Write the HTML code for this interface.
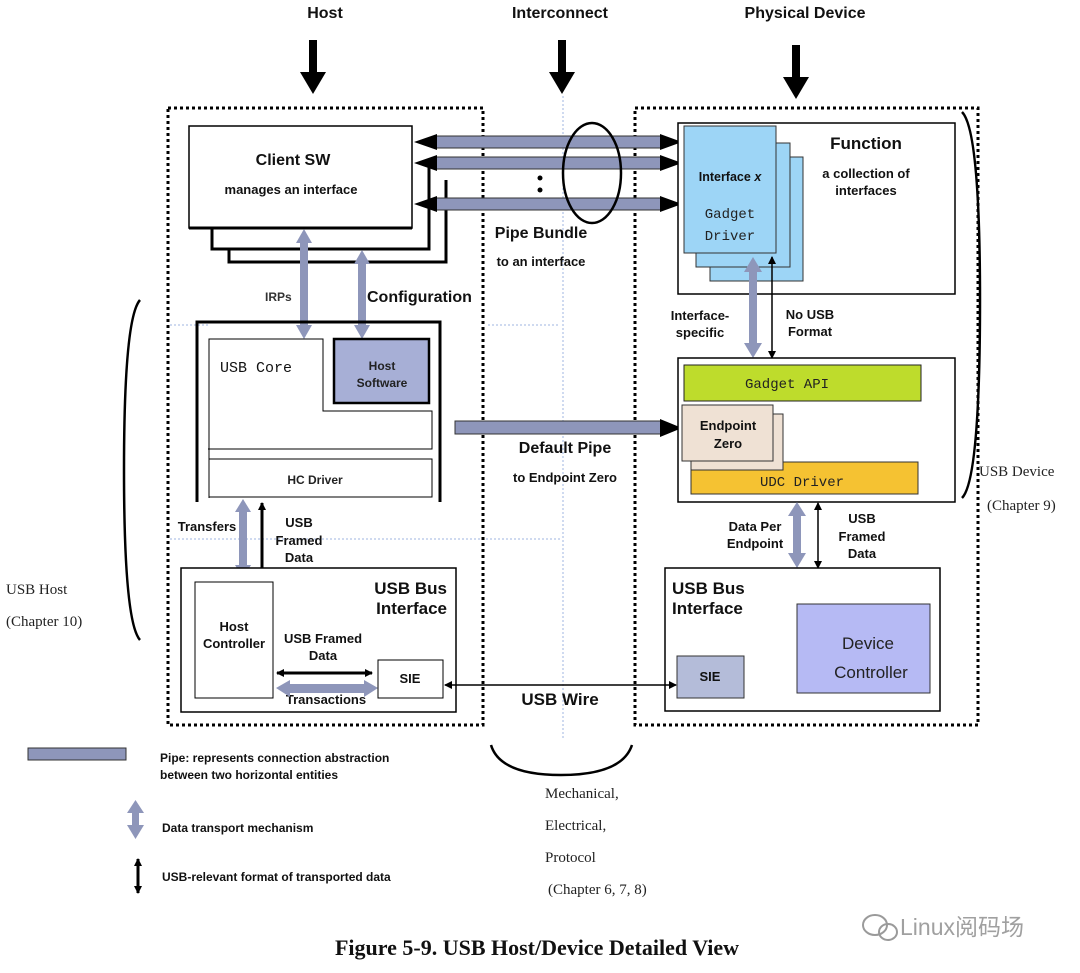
<!DOCTYPE html>
<html><head><meta charset="utf-8"><style>
html,body{margin:0;padding:0;background:#fff;}
svg{display:block;}
.s{font-family:"Liberation Sans",sans-serif;}
.b{font-weight:bold;}
.m{font-family:"Liberation Mono","DejaVu Sans Mono",monospace;}
.r{font-family:"Liberation Serif",serif;}
</style></head><body>
<svg width="1080" height="973" viewBox="0 0 1080 973" xmlns="http://www.w3.org/2000/svg">
<defs>
<marker id="ah" markerWidth="8" markerHeight="8" refX="7" refY="4" orient="auto-start-reverse" markerUnits="userSpaceOnUse"><path d="M0,0 L8,4 L0,8 z" fill="#000"/></marker>
</defs>
<g class="s b" font-size="16" text-anchor="middle" fill="#111">
<text x="325" y="18">Host</text><text x="560" y="18">Interconnect</text><text x="805" y="18">Physical Device</text>
</g>
<g fill="#000">
<rect x="309" y="40" width="8" height="35"/><path d="M300,72 L326,72 L313,94 z"/>
<rect x="558" y="40" width="8" height="35"/><path d="M549,72 L575,72 L562,94 z"/>
<rect x="792" y="45" width="8" height="35"/><path d="M783,77 L809,77 L796,99 z"/>
</g>
<g stroke="#9fb4e0" stroke-width="1" stroke-dasharray="2,2">
<line x1="563" y1="96" x2="563" y2="740"/>
<line x1="170" y1="325" x2="210" y2="325"/><line x1="488" y1="325" x2="560" y2="325"/>
<line x1="170" y1="539" x2="560" y2="539"/>
</g>
<g fill="none" stroke="#000" stroke-width="3" stroke-dasharray="3,3">
<path d="M168,108 L483,108 L483,725 L168,725 z"/>
<path d="M635,108 L978,108 L978,725 L635,725 z"/>
</g>
<g fill="none" stroke="#000" stroke-width="3">
<path d="M212,228 L212,249 L429,249 L429,165"/>
<path d="M229,249 L229,262 L446,262 L446,180"/>
</g>
<rect x="189" y="126" width="223" height="102" fill="#fff" stroke="#000" stroke-width="1.5"/>
<path d="M189,228 L412,228" stroke="#000" stroke-width="3"/>
<g class="s b" text-anchor="middle" fill="#111">
<text x="293" y="165" font-size="16">Client SW</text>
<text x="291" y="194" font-size="13">manages an interface</text>
</g>
<g fill="#8e96ba" stroke="#333" stroke-width="1">
<rect x="436" y="136" width="225" height="12"/>
<rect x="436" y="157" width="225" height="12"/>
<rect x="436" y="198" width="225" height="12"/>
<rect x="455" y="421" width="207" height="13"/>
</g>
<g fill="#000">
<path d="M414,142 L437,134 L437,150 z"/><path d="M682,142 L660,134 L660,150 z"/>
<path d="M414,163 L437,155 L437,171 z"/><path d="M682,163 L660,155 L660,171 z"/>
<path d="M414,204 L437,196 L437,212 z"/><path d="M682,204 L660,196 L660,212 z"/>
<path d="M682,428 L660,419 L660,437 z"/>
<circle cx="540" cy="178" r="2.5"/><circle cx="540" cy="190" r="2.5"/>
</g>
<ellipse cx="592" cy="173" rx="29" ry="50" fill="none" stroke="#000" stroke-width="2.5"/>
<g class="s b" fill="#111" text-anchor="middle">
<text x="541" y="238" font-size="16">Pipe Bundle</text>
<text x="541" y="266" font-size="13">to an interface</text>
<text x="565" y="453" font-size="16">Default Pipe</text>
<text x="565" y="482" font-size="13">to Endpoint Zero</text>
</g>
<g fill="#8e96ba">
<rect x="300" y="240" width="8" height="88"/><path d="M296,243 L304,229 L312,243 z"/><path d="M296,325 L304,339 L312,325 z"/>
<rect x="358" y="262" width="8" height="66"/><path d="M354,264 L362,250 L370,264 z"/><path d="M354,325 L362,339 L370,325 z"/>
</g>
<text x="265" y="301" class="s b" font-size="12" fill="#333">IRPs</text>
<text x="367" y="302" class="s b" font-size="16" fill="#111">Configuration</text>
<path d="M197,502 L197,322 L440,322 L440,502" fill="none" stroke="#000" stroke-width="3"/>
<path d="M209,498 L209,339 L323,339 L323,411 L432,411 L432,449 L208,449" fill="none" stroke="#000" stroke-width="1"/>
<text x="220" y="372" class="m" font-size="15" fill="#111">USB Core</text>
<rect x="334" y="339" width="95" height="64" fill="#a7afd6" stroke="#000" stroke-width="2.5"/>
<g class="s b" font-size="12" fill="#222" text-anchor="middle"><text x="382" y="370">Host</text><text x="382" y="387">Software</text></g>
<rect x="209" y="459" width="223" height="38" fill="#fff" stroke="#000" stroke-width="1"/>
<text x="315" y="484" class="s b" font-size="12" fill="#222" text-anchor="middle">HC Driver</text>
<g fill="#8e96ba"><rect x="239" y="510" width="8" height="58"/><path d="M235,512 L243,499 L251,512 z"/><path d="M235,565 L243,578 L251,565 z"/></g>
<line x1="262" y1="503" x2="262" y2="578" stroke="#000" stroke-width="3" marker-start="url(#ah)" marker-end="url(#ah)"/>
<g class="s b" font-size="13" fill="#111" text-anchor="middle">
<text x="207" y="531">Transfers</text>
<text x="299" y="527">USB</text><text x="299" y="545">Framed</text><text x="299" y="562">Data</text>
</g>
<rect x="181" y="568" width="275" height="144" fill="#fff" stroke="#000" stroke-width="1.5"/>
<rect x="195" y="582" width="78" height="116" fill="#fff" stroke="#000" stroke-width="1"/>
<g class="s b" fill="#111">
<text x="447" y="594" font-size="17" text-anchor="end">USB Bus</text>
<text x="447" y="614" font-size="17" text-anchor="end">Interface</text>
<text x="234" y="631" font-size="13" text-anchor="middle">Host</text>
<text x="234" y="648" font-size="13" text-anchor="middle">Controller</text>
<text x="323" y="643" font-size="13" text-anchor="middle">USB Framed</text>
<text x="323" y="660" font-size="13" text-anchor="middle">Data</text>
<text x="326" y="704" font-size="13" text-anchor="middle">Transactions</text>
</g>
<line x1="277" y1="673" x2="372" y2="673" stroke="#000" stroke-width="3" marker-start="url(#ah)" marker-end="url(#ah)"/>
<g fill="#8e96ba"><rect x="288" y="684" width="78" height="9"/><path d="M290,680 L276,688 L290,697 z"/><path d="M364,680 L378,688 L364,697 z"/></g>
<rect x="378" y="660" width="65" height="38" fill="#fff" stroke="#000" stroke-width="1"/>
<text x="410" y="683" class="s b" font-size="13" fill="#111" text-anchor="middle">SIE</text>
<text x="560" y="705" class="s b" font-size="17" fill="#111" text-anchor="middle">USB Wire</text>
<rect x="678" y="123" width="277" height="171" fill="#fff" stroke="#000" stroke-width="1.5"/>
<rect x="710" y="157" width="93" height="124" fill="#9dd5f6" stroke="#333" stroke-width="1"/>
<rect x="696" y="143" width="94" height="124" fill="#9dd5f6" stroke="#333" stroke-width="1"/>
<rect x="684" y="126" width="92" height="127" fill="#9dd5f6" stroke="#333" stroke-width="1"/>
<text x="730" y="181" class="s b" font-size="12.5" fill="#111" text-anchor="middle">Interface <tspan font-style="italic">x</tspan></text>
<text x="730" y="218" class="m" font-size="14" fill="#222" text-anchor="middle">Gadget</text>
<text x="730" y="240" class="m" font-size="14" fill="#222" text-anchor="middle">Driver</text>
<g class="s b" fill="#111" text-anchor="middle">
<text x="866" y="149" font-size="17">Function</text>
<text x="866" y="178" font-size="13">a collection of</text>
<text x="866" y="195" font-size="13">interfaces</text>
<text x="700" y="320" font-size="13">Interface-</text><text x="700" y="337" font-size="13">specific</text>
<text x="810" y="319" font-size="13">No USB</text><text x="810" y="336" font-size="13">Format</text>
</g>
<g fill="#8e96ba"><rect x="749" y="270" width="8" height="76"/><path d="M744,272 L753,257 L762,272 z"/><path d="M744,343 L753,358 L762,343 z"/></g>
<line x1="772" y1="257" x2="772" y2="358" stroke="#000" stroke-width="1.5" marker-start="url(#ah)" marker-end="url(#ah)"/>
<rect x="678" y="358" width="277" height="144" fill="#fff" stroke="#000" stroke-width="1.5"/>
<rect x="684" y="365" width="237" height="36" fill="#bedc2c" stroke="#222" stroke-width="1"/>
<text x="787" y="388" class="m" font-size="14" fill="#222" text-anchor="middle">Gadget API</text>
<rect x="691" y="462" width="227" height="32" fill="#f5c232" stroke="#333" stroke-width="1"/>
<text x="802" y="486" class="m" font-size="14" fill="#222" text-anchor="middle">UDC Driver</text>
<rect x="691" y="414" width="92" height="56" fill="#efe1d4" stroke="#333" stroke-width="1"/>
<rect x="682" y="405" width="91" height="56" fill="#efe1d4" stroke="#333" stroke-width="1"/>
<g class="s b" font-size="13" fill="#111" text-anchor="middle"><text x="728" y="430">Endpoint</text><text x="728" y="448">Zero</text></g>
<g fill="#8e96ba"><rect x="793" y="514" width="8" height="42"/><path d="M788,516 L797,502 L806,516 z"/><path d="M788,553 L797,568 L806,553 z"/></g>
<line x1="818" y1="503" x2="818" y2="568" stroke="#000" stroke-width="1.5" marker-start="url(#ah)" marker-end="url(#ah)"/>
<g class="s b" font-size="13" fill="#111" text-anchor="middle">
<text x="755" y="531">Data Per</text><text x="755" y="548">Endpoint</text>
<text x="862" y="523">USB</text><text x="862" y="541">Framed</text><text x="862" y="558">Data</text>
</g>
<rect x="665" y="568" width="275" height="143" fill="#fff" stroke="#000" stroke-width="1.5"/>
<g class="s b" font-size="17" fill="#111"><text x="672" y="594">USB Bus</text><text x="672" y="614">Interface</text></g>
<rect x="797" y="604" width="133" height="89" fill="#b6baf4" stroke="#333" stroke-width="1"/>
<g class="s" font-size="17" fill="#222" text-anchor="middle"><text x="868" y="649">Device</text><text x="871" y="678">Controller</text></g>
<rect x="677" y="656" width="67" height="42" fill="#b4bcd9" stroke="#333" stroke-width="1"/>
<text x="710" y="681" class="s b" font-size="13" fill="#111" text-anchor="middle">SIE</text>
<line x1="445" y1="685" x2="676" y2="685" stroke="#000" stroke-width="1.5" marker-start="url(#ah)" marker-end="url(#ah)"/>
<g fill="none" stroke="#000" stroke-width="2.5">
<path d="M962,112 Q980,130 980,300 Q980,480 962,498"/>
<path d="M140,300 Q124,318 124,470 Q124,622 140,640"/>
<path d="M491,745 Q500,775 561,775 Q622,775 632,745"/>
</g>
<g class="r" font-size="15" fill="#222">
<text x="979" y="476">USB Device</text><text x="987" y="510">(Chapter 9)</text>
<text x="6" y="594">USB Host</text><text x="6" y="626">(Chapter 10)</text>
<text x="545" y="798">Mechanical,</text><text x="545" y="830">Electrical,</text><text x="545" y="862">Protocol</text><text x="548" y="894">(Chapter 6, 7, 8)</text>
</g>
<rect x="28" y="748" width="98" height="12" fill="#8e96ba" stroke="#333" stroke-width="1"/>
<g class="s b" font-size="12" fill="#111">
<text x="160" y="762">Pipe:  represents connection abstraction</text>
<text x="160" y="779">between two horizontal entities</text>
<text x="162" y="832">Data transport mechanism</text>
<text x="162" y="881">USB-relevant format of transported data</text>
</g>
<g fill="#8e96ba"><rect x="132" y="811" width="7" height="16"/><path d="M127,813 L135.5,800 L144,813 z"/><path d="M127,825 L135.5,839 L144,825 z"/></g>
<line x1="138" y1="859" x2="138" y2="893" stroke="#000" stroke-width="3" marker-start="url(#ah)" marker-end="url(#ah)"/>
<text x="537" y="955" class="r b" font-size="22" fill="#111" text-anchor="middle">Figure 5-9.  USB Host/Device Detailed View</text>
<g fill="none" stroke="#9a9a9a" stroke-width="2"><ellipse cx="875" cy="925" rx="12" ry="10"/><ellipse cx="888" cy="932" rx="9" ry="8"/></g>
<text x="900" y="935" class="s" font-size="23" fill="#a0a0a0" font-family="'Liberation Sans','Noto Sans CJK SC',sans-serif">Linux阅码场</text>
</svg>
</body></html>
